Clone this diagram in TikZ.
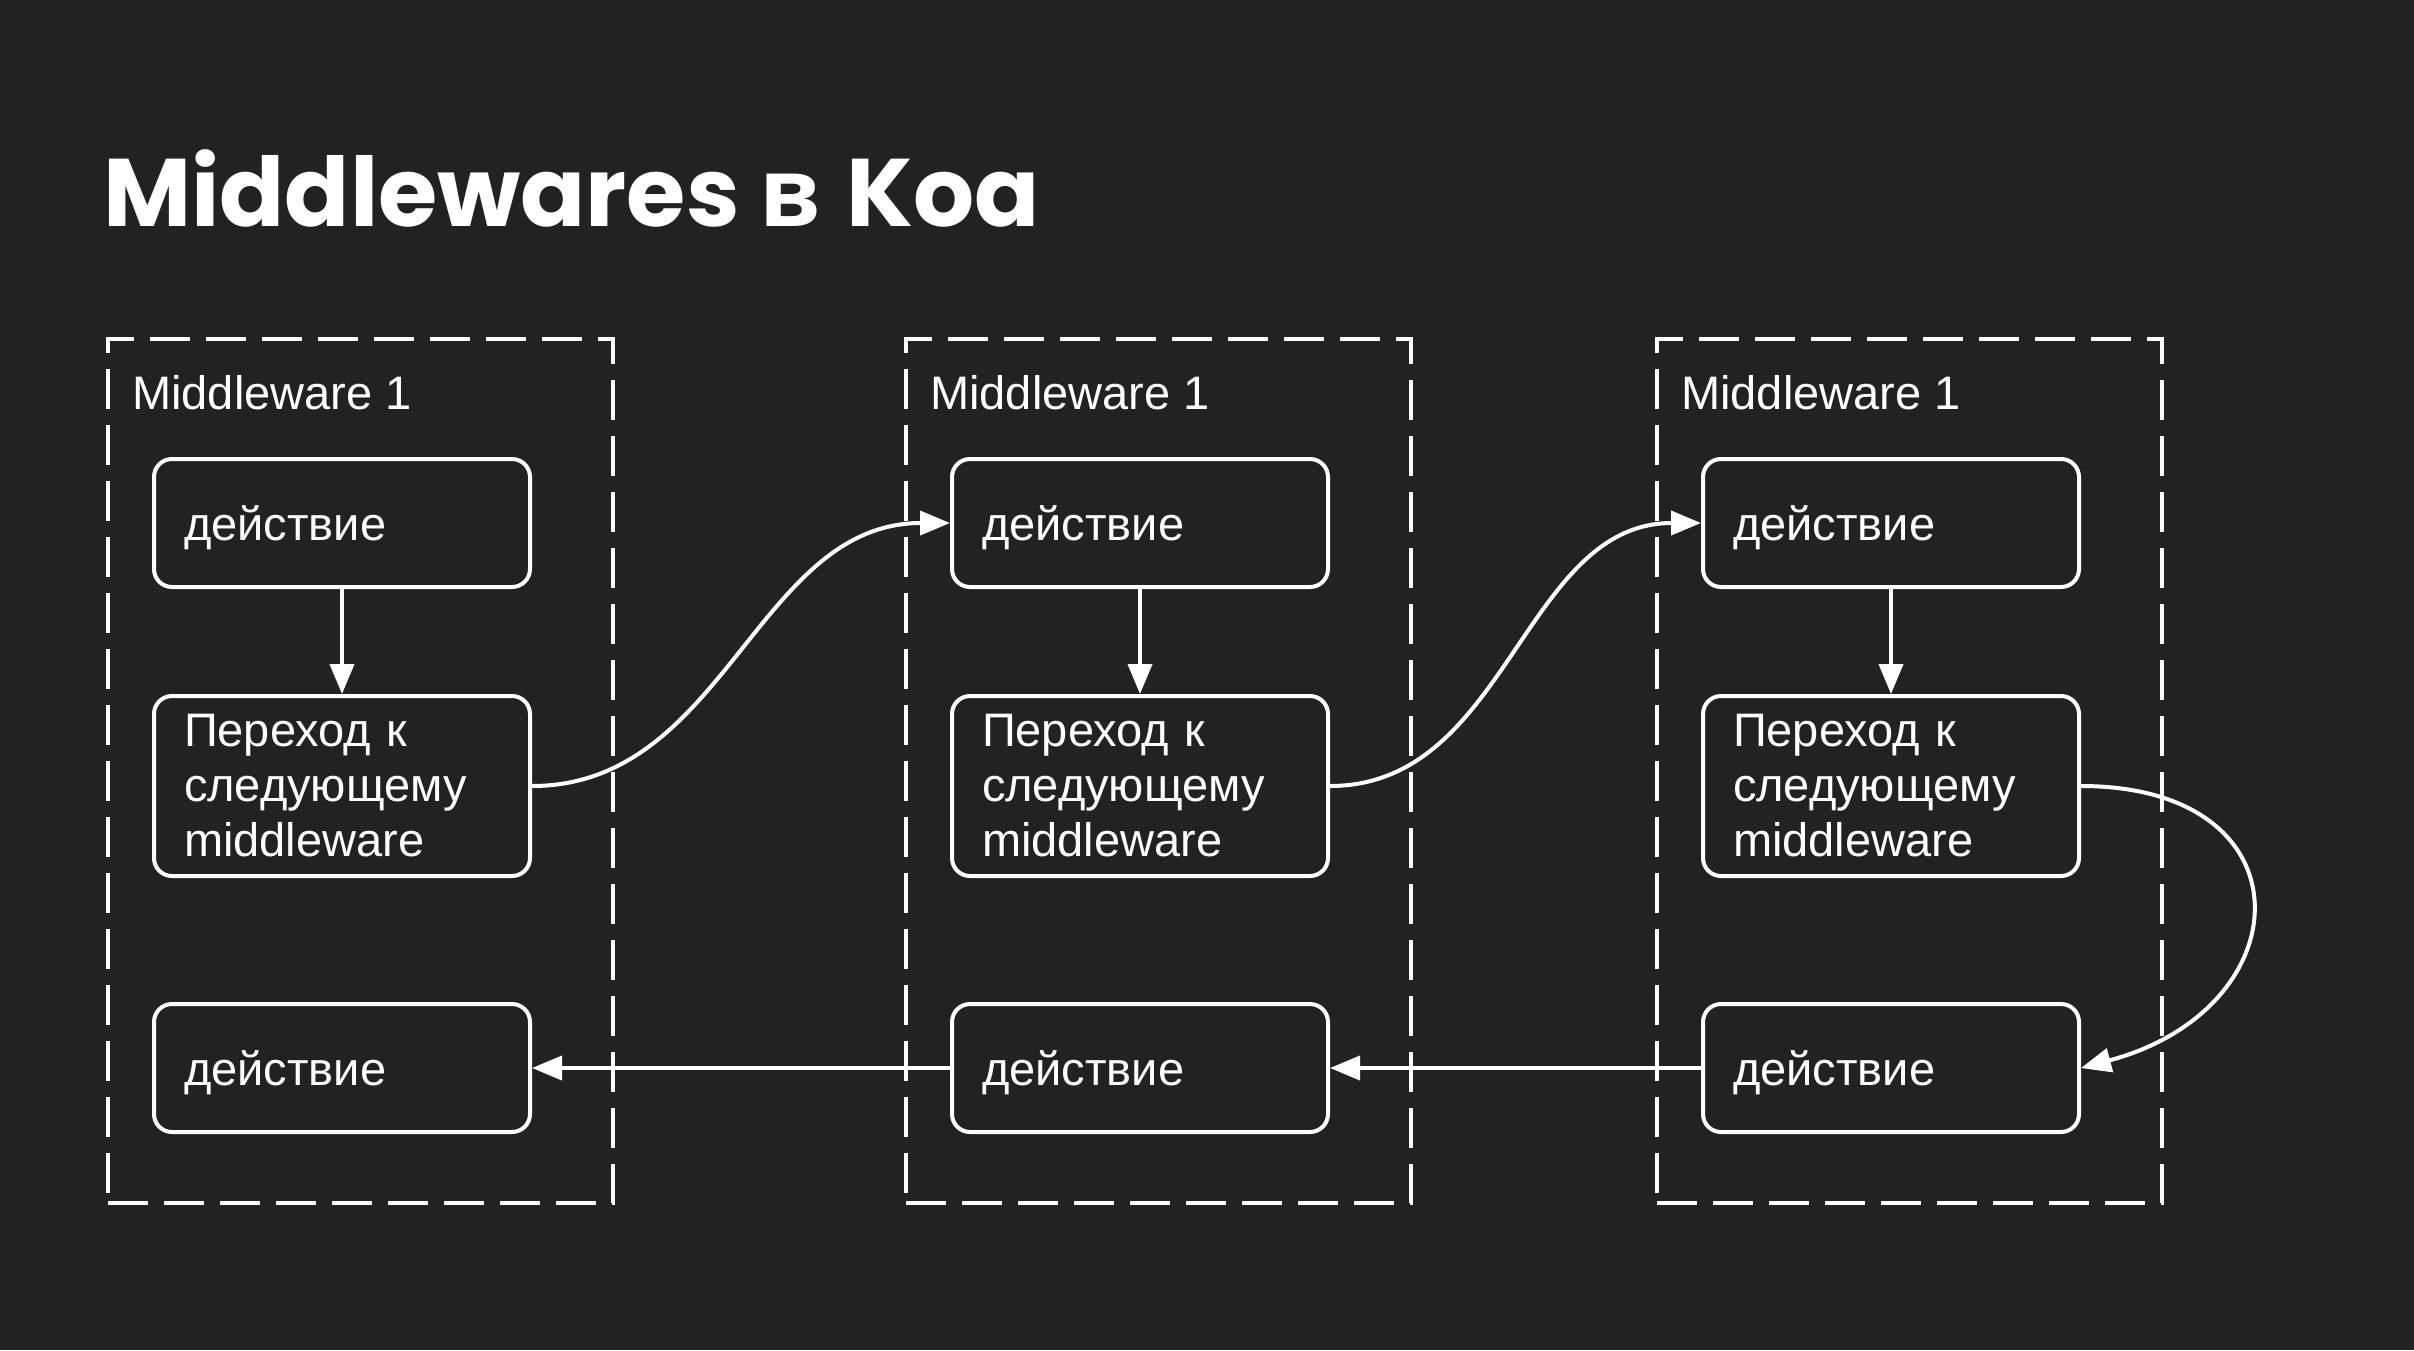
\documentclass[tikz,border=0pt]{standalone}
\usepackage{fontspec}
\setmainfont{Liberation Sans}
\newfontfamily\titlefont{Poppins}
\newfontfamily\titlefontcyr{Open Sans}
\usetikzlibrary{arrows.meta}
\definecolor{bgc}{HTML}{222222}
\tikzset{
  group/.style={draw=white, line width=4pt, dash pattern=on 40pt off 16pt, minimum width=505pt, minimum height=864pt, anchor=north west, inner sep=0pt},
  grouplabel/.style={anchor=base west, inner sep=0pt, text=white, font=\fontsize{47}{55}\selectfont},
  stepbox/.style={draw=white, line width=4pt, rounded corners=18pt, fill=bgc, text=white, minimum width=376pt, minimum height=128pt, text width=316pt, inner xsep=30pt, inner ysep=0pt, align=left, anchor=north west, font=\fontsize{47}{55}\selectfont},
  shortbox/.style={stepbox, text height=44pt, text depth=10pt},
  tallbox/.style={stepbox, minimum height=180pt},
  conn/.style={draw=white, line width=4pt, -{Triangle[length=30pt,width=24pt]}}
}
\begin{document}
\begin{tikzpicture}[x=1pt,y=-1pt]
\fill[bgc] (0,0) rectangle (2414,1350);
\useasboundingbox (0,0) rectangle (2414,1350);
\node[anchor=base west, inner sep=0pt, text=white, font=\fontsize{96}{106}\selectfont] (title) at (103,226) {\titlefont\bfseries Middlewares \titlefontcyr в \titlefont Koa};
% groups
\node[group] (g1) at (106,337) {};
\node[group] (g2) at (904,337) {};
\node[group] (g3) at (1655,337) {};
\node[grouplabel] (l1) at (132,409) {Middleware 1};
\node[grouplabel] (l2) at (930,409) {Middleware 1};
\node[grouplabel] (l3) at (1681,409) {Middleware 1};
% column 1
\node[shortbox] (a1) at (152,457) {действие};
\node[tallbox] (b1) at (152,694) {Переход к\\следующему\\middleware};
\node[shortbox] (c1) at (152,1002) {действие};
% column 2
\node[shortbox] (a2) at (950,457) {действие};
\node[tallbox] (b2) at (950,694) {Переход к\\следующему\\middleware};
\node[shortbox] (c2) at (950,1002) {действие};
% column 3
\node[shortbox] (a3) at (1701,457) {действие};
\node[tallbox] (b3) at (1701,694) {Переход к\\следующему\\middleware};
\node[shortbox] (c3) at (1701,1002) {действие};
% connectors
\draw[conn] (a1) -- (b1);
\draw[conn] (a2) -- (b2);
\draw[conn] (a3) -- (b3);
\draw[conn] (b1.east) to[out=0,in=180] (a2.west);
\draw[conn] (b2.east) to[out=0,in=180] (a3.west);
\draw[conn] (b3.east) to[out=0,in=15,looseness=2.1] (c3.east);
\draw[conn] (c3.west) -- (c2.east);
\draw[conn] (c2.west) -- (c1.east);
\end{tikzpicture}
\end{document}
